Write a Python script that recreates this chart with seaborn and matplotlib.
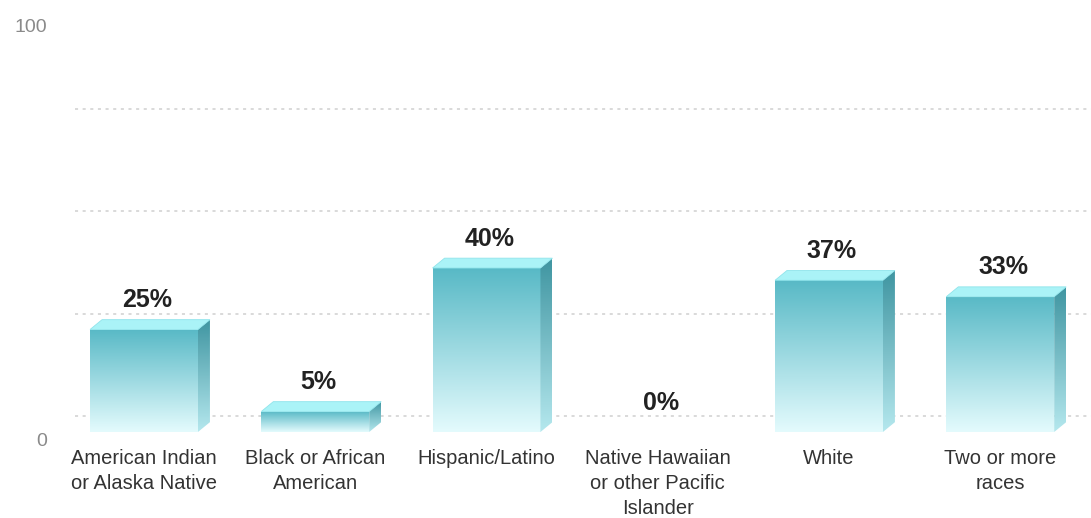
import numpy as np
import pandas as pd
import matplotlib
matplotlib.use("Agg")
import matplotlib.pyplot as plt
import matplotlib.transforms as mtransforms
from matplotlib.colors import LinearSegmentedColormap
from matplotlib.patches import Polygon
import seaborn as sns

# data
categories = [
    "American Indian\nor Alaska Native",
    "Black or African\nAmerican",
    "Hispanic/Latino",
    "Native Hawaiian\nor other Pacific\nIslander",
    "White",
    "Two or more\nraces",
]
values = [25, 5, 40, 0, 37, 33]
grid_values = [0, 25, 50, 75]
ytick_values = [0, 100]

df = pd.DataFrame({"group": categories, "pct": values})

sns.set_theme(style="white")
plt.rcParams["font.family"] = ["Liberation Sans", "DejaVu Sans"]

W, H = 1091, 518
fig = plt.figure(figsize=(W / 100, H / 100), dpi=100)
ax = fig.add_axes([75 / W, 86 / H, 1 - 75 / W, 410 / H])

sns.barplot(data=df, x="group", y="pct", width=0.63, color="#5fc3cc",
            ax=ax, zorder=2)

# 3D-ish depth in data units
dx, dy = 0.07, 2.4
front_cmap = LinearSegmentedColormap.from_list("front", ["#e4fbfd", "#58b9c6"])
side_cmap = LinearSegmentedColormap.from_list("side", ["#b5e8ee", "#3f95a1"])
grad = np.linspace(0, 1, 256).reshape(-1, 1)

for patch, val in zip(ax.patches, values):
    x0 = patch.get_x()
    w = patch.get_width()
    h = patch.get_height()
    cx = x0 + w / 2
    if h > 0:
        patch.set_facecolor("none")
        patch.set_edgecolor("none")
        img = ax.imshow(grad, cmap=front_cmap, origin="lower", aspect="auto",
                        extent=(x0, x0 + w, 0, h), zorder=2)
        img.set_clip_path(patch)
        side = Polygon([(x0 + w, 0), (x0 + w + dx, dy), (x0 + w + dx, h + dy),
                        (x0 + w, h)], closed=True, facecolor="none",
                       edgecolor="none", zorder=2)
        ax.add_patch(side)
        simg = ax.imshow(grad, cmap=side_cmap, origin="lower", aspect="auto",
                         extent=(x0 + w, x0 + w + dx, 0, h + dy), zorder=2)
        simg.set_clip_path(side)
        top = Polygon([(x0, h), (x0 + dx, h + dy), (x0 + w + dx, h + dy),
                       (x0 + w, h)], closed=True, facecolor="#aaf3f7",
                      edgecolor="#90e4eb", lw=0.6, zorder=3)
        ax.add_patch(top)
    ax.text(cx + dx / 4, h + dy + 1.8, f"{val}%", ha="center", va="bottom",
            fontsize=18, fontweight="bold", color="#222222", zorder=4)

# dotted back gridlines
for g in grid_values:
    ax.axhline(g + 3.8, color="#cfcfcf", ls=(0, (2, 3)), lw=1.1, zorder=0)

ax.set_xlim(-0.403, 5.53)
ax.set_ylim(0, 100)
ax.set_yticks(ytick_values)
ax.set_yticklabels([str(v) for v in ytick_values])
ax.tick_params(axis="y", length=0, pad=20, labelsize=14, labelcolor="#8a8a8a")
ax.tick_params(axis="x", length=0, pad=12, labelsize=14.5, labelcolor="#333333")
for lab in ax.get_xticklabels():
    lab.set_linespacing(1.4)
ylabs = ax.get_yticklabels()
ylabs[0].set_transform(ylabs[0].get_transform() +
                       mtransforms.ScaledTranslation(0, -8 / 100, fig.dpi_scale_trans))
ylabs[1].set_transform(ylabs[1].get_transform() +
                       mtransforms.ScaledTranslation(0, -3 / 100, fig.dpi_scale_trans))
ax.set_xlabel("")
ax.set_ylabel("")
sns.despine(ax=ax, left=True, bottom=True)

fig.savefig("out.png", dpi=100, facecolor="white")
